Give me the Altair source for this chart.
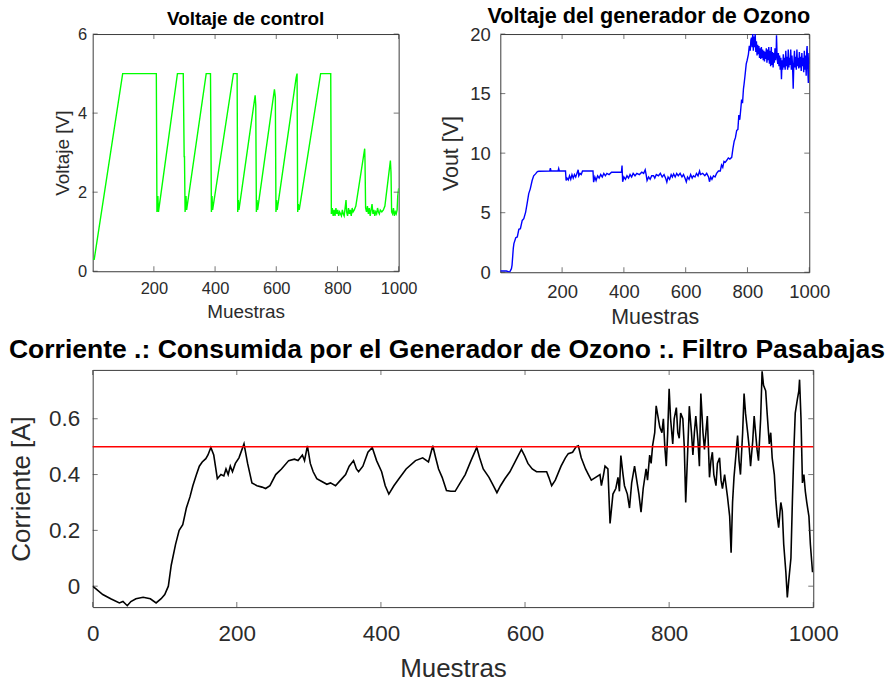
import altair as alt
import pandas as pd

# ---------------- data ----------------
ctrl_x = [1, 5, 98, 208, 210, 213, 215, 277, 296, 299, 300, 302, 305, 307, 371, 385, 388, 390, 392,
          460, 472, 474, 476, 478, 531, 533, 535, 537, 539, 594, 597, 599, 601, 603, 665, 668, 670,
          672, 675, 745, 778, 780, 783, 786, 789, 792, 795, 798, 801, 804, 807, 810, 813, 816, 819,
          822, 825, 828, 830, 833, 836, 839, 842, 845, 848, 851, 855, 860, 889, 890, 892, 895, 898,
          901, 904, 907, 910, 913, 916, 919, 922, 925, 928, 931, 934, 937, 940, 945, 950, 955, 973,
          975, 977, 980, 983, 986, 989, 992, 995, 997, 1000]
ctrl_y = [0.3, 0.3, 5.0, 5.0, 1.5, 1.9, 1.5, 5.0, 5.0, 2.9, 2.9, 1.5, 1.9, 1.55, 5.0, 5.0, 1.5, 1.9, 1.55,
          5.0, 5.0, 1.5, 1.8, 1.55, 4.45, 4.2, 1.5, 1.8, 1.55, 4.6, 4.4, 1.5, 1.8, 1.55, 4.9, 5.0, 1.5,
          1.7, 1.55, 5.0, 5.0, 1.45, 1.6, 1.4, 1.55, 1.4, 1.6, 1.45, 1.55, 1.4, 1.5, 1.45, 1.4, 1.55, 1.45,
          1.4, 1.6, 1.8, 1.5, 1.4, 1.6, 1.45, 1.55, 1.4, 1.6, 1.5, 1.55, 1.65, 3.1, 2.8, 1.6, 1.5, 1.65,
          1.45, 1.6, 1.4, 1.55, 1.7, 1.45, 1.55, 1.4, 1.5, 1.45, 1.6, 1.5, 1.45, 1.55, 1.5, 1.55, 1.65, 2.8,
          2.5, 1.5, 1.45, 1.6, 1.4, 1.5, 1.45, 1.55, 1.9, 2.1]

vout_x = [0, 20, 30, 36, 38, 42, 44, 50, 55, 60, 65, 71, 76, 82, 87, 92, 97, 103, 108, 114, 120, 125,
          160, 162, 164, 187, 189, 191, 211, 213, 216, 220, 224, 228, 232, 236, 240, 244, 248, 252,
          254, 258, 262, 266, 275, 300, 302, 306, 310, 315, 320, 325, 330, 335, 340, 345, 352, 360,
          370, 380, 392, 394, 396, 400, 405, 410, 415, 420, 425, 430, 436, 442, 450, 458, 464, 469,
          472, 475, 480, 485, 490, 496, 500, 505, 512, 518, 524, 530, 535, 539, 543, 548, 553, 557,
          561, 566, 571, 576, 582, 588, 593, 598, 602, 606, 611, 616, 621, 625, 630, 635, 640, 645,
          648, 655, 662, 668, 674, 677, 681, 685, 690, 695, 700, 706, 712, 716, 720, 724, 728, 733,
          738, 743, 749, 753, 757, 761, 765, 769, 772, 775, 778, 781, 784, 787, 789, 792, 796, 799,
          803, 806, 809, 811, 813, 815, 817, 819, 821, 823, 825, 827, 829, 831, 833, 835, 837, 839,
          841, 843, 845, 847, 849, 851, 853, 855, 857, 859, 861, 863, 865, 867, 869, 871, 873, 875,
          877, 879, 881, 883, 885, 887, 889, 891, 893, 894, 896, 898, 900, 902, 904, 906, 908, 910,
          912, 914, 916, 918, 920, 922, 924, 926, 928, 930, 932, 934, 936, 938, 940, 942, 944, 946,
          948, 950, 952, 954, 956, 958, 960, 962, 964, 966, 968, 970, 972, 974, 976, 978, 980, 982,
          984, 986, 988, 990, 992, 993, 995, 997, 999, 1000]
vout_y = [0.1, 0.1, 0.0, 0.3, 0.6, 2.0, 2.4, 2.9, 2.96, 3.6, 3.65, 4.35, 4.5, 5.05, 5.8, 6.6, 7.0, 7.7,
          8.1, 8.26, 8.45, 8.48, 8.5, 8.75, 8.5, 8.5, 8.7, 8.5, 8.5, 7.7, 7.9, 7.75, 8.1, 7.8, 8.2, 7.9,
          8.2, 8.0, 8.3, 8.6, 8.1, 8.3, 8.2, 8.5, 8.5, 8.5, 7.56, 8.0, 7.7, 8.1, 7.9, 8.2, 8.0, 8.3, 8.1,
          8.3, 8.2, 8.4, 8.4, 8.4, 8.4, 8.95, 7.6, 8.0, 7.8, 8.1, 7.9, 8.2, 8.0, 8.3, 8.1, 8.3, 8.2, 8.4,
          8.3, 8.6, 8.2, 7.7, 8.0, 7.8, 8.1, 8.1, 7.9, 8.2, 8.1, 8.3, 8.0, 8.2, 7.9, 7.56, 8.0, 7.8, 8.2,
          8.0, 8.26, 8.0, 8.3, 8.1, 8.3, 8.0, 8.2, 7.9, 7.6, 8.0, 7.8, 8.2, 7.9, 8.1, 8.0, 8.3, 8.1, 8.5,
          8.2, 8.3, 8.1, 8.3, 8.0, 7.6, 8.0, 7.8, 8.1, 8.0, 8.3, 8.5, 8.5, 9.0, 8.8, 9.3, 9.23, 9.4, 9.6,
          9.5, 9.65, 10.4, 11.0, 11.3, 11.9, 12.0, 13.2, 12.8, 13.6, 14.5, 14.2, 15.4, 15.8, 16.5, 17.5,
          17.8, 18.3, 19.0, 18.6, 19.5, 19.7, 18.9, 20.0, 18.6, 19.8, 18.9, 20.0, 18.5, 19.4, 18.2, 19.1,
          18.3, 19.0, 18.0, 18.8, 17.9, 18.9, 18.0, 18.7, 17.8, 18.6, 17.7, 18.5, 17.9, 18.8, 17.6, 18.7,
          17.8, 18.9, 17.5, 18.6, 17.3, 18.9, 17.4, 18.5, 17.2, 18.4, 17.6, 18.8, 17.8, 18.6, 19.9, 18.0,
          17.5, 18.4, 17.3, 18.2, 17.0, 18.0, 16.2, 17.8, 17.0, 18.3, 17.2, 18.0, 17.0, 18.6, 17.3, 18.1,
          17.0, 18.7, 17.2, 18.0, 17.4, 18.7, 17.0, 18.2, 17.3, 15.4, 17.5, 18.6, 17.2, 18.1, 17.0, 18.7,
          17.3, 18.0, 17.1, 18.5, 17.2, 18.1, 16.9, 18.4, 17.3, 18.0, 16.8, 18.6, 17.0, 18.2, 16.5, 18.7,
          19.0, 17.2, 15.9, 18.4, 17.5]

curr_x = [0, 14, 25, 37, 42, 48, 53, 60, 70, 80, 88, 95, 100, 105, 109, 115, 120, 125, 130, 135, 139,
          144, 148, 152, 157, 160, 164, 168, 173, 178, 182, 185, 188, 191, 194, 198, 203, 210, 215,
          221, 228, 235, 240, 246, 254, 262, 272, 280, 285, 291, 294, 298, 302, 306, 311, 318, 325,
          330, 337, 344, 351, 356, 362, 366, 369, 375, 382, 388, 394, 401, 406, 411, 418, 425, 435,
          448, 458, 466, 472, 476, 480, 485, 491, 497, 503, 510, 517, 525, 533, 537, 542, 550, 556,
          561, 566, 572, 579, 587, 595, 599, 604, 610, 616, 623, 630, 633, 637, 642, 650, 656, 660,
          666, 671, 674, 678, 684, 688, 692, 698, 704, 706, 709, 711, 715, 718, 722, 726, 729, 731,
          733, 736, 738, 742, 745, 748, 752, 755, 758, 761, 764, 768, 770, 773, 775, 777, 780, 782,
          785, 787, 790, 792, 794, 796, 798, 800, 802, 805, 807, 810, 812, 814, 816, 819, 821, 823,
          826, 828, 831, 833, 835, 837, 840, 842, 844, 847, 849, 851, 853, 856, 858, 860, 862, 865,
          867, 870, 872, 874, 877, 881, 884, 886, 888, 890, 893, 895, 897, 899, 902, 904, 906, 909,
          911, 913, 916, 918, 920, 922, 924, 927, 929, 931, 934, 936, 939, 941, 943, 946, 948, 950,
          952, 955, 957, 959, 962, 964, 966, 969, 971, 973, 975, 978, 980, 981, 983, 985, 987, 989,
          991, 994, 996, 999]
curr_y = [0.0, -0.03, -0.045, -0.06, -0.055, -0.07, -0.055, -0.045, -0.04, -0.045, -0.06, -0.045,
          -0.03, 0.0, 0.075, 0.15, 0.2, 0.22, 0.28, 0.32, 0.36, 0.40, 0.43, 0.445, 0.457, 0.47, 0.497,
          0.47, 0.385, 0.40, 0.395, 0.42, 0.40, 0.43, 0.41, 0.44, 0.46, 0.51, 0.44, 0.37, 0.36, 0.355,
          0.35, 0.36, 0.40, 0.42, 0.45, 0.455, 0.45, 0.47, 0.45, 0.503, 0.44, 0.41, 0.385, 0.375, 0.365,
          0.37, 0.36, 0.38, 0.40, 0.43, 0.45, 0.42, 0.41, 0.43, 0.48, 0.497, 0.45, 0.41, 0.36, 0.33,
          0.36, 0.385, 0.42, 0.45, 0.46, 0.445, 0.503, 0.46, 0.42, 0.39, 0.343, 0.34, 0.34, 0.37, 0.40,
          0.45, 0.497, 0.46, 0.42, 0.39, 0.36, 0.335, 0.36, 0.385, 0.41, 0.45, 0.49, 0.47, 0.44, 0.42,
          0.41, 0.41, 0.41, 0.39, 0.36, 0.38, 0.43, 0.46, 0.475, 0.48, 0.50, 0.503, 0.46, 0.42, 0.40,
          0.38, 0.39, 0.40, 0.36, 0.40, 0.43, 0.42, 0.225, 0.33, 0.35, 0.39, 0.34, 0.468, 0.40, 0.36,
          0.33, 0.28, 0.37, 0.43, 0.38, 0.33, 0.265, 0.35, 0.42, 0.38, 0.47, 0.44, 0.503, 0.55, 0.646,
          0.60, 0.57, 0.55, 0.60, 0.50, 0.43, 0.55, 0.707, 0.60, 0.51, 0.60, 0.64, 0.55, 0.53, 0.62,
          0.60, 0.50, 0.30, 0.50, 0.645, 0.55, 0.47, 0.55, 0.61, 0.52, 0.43, 0.69, 0.55, 0.49, 0.55,
          0.61, 0.39, 0.45, 0.48, 0.40, 0.36, 0.44, 0.46, 0.38, 0.35, 0.40, 0.32, 0.25, 0.12, 0.30, 0.39,
          0.48, 0.54, 0.45, 0.40, 0.55, 0.69, 0.62, 0.55, 0.50, 0.43, 0.52, 0.61, 0.55, 0.49, 0.45, 0.60,
          0.77, 0.72, 0.70, 0.62, 0.51, 0.55, 0.46, 0.40, 0.31, 0.25, 0.21, 0.30, 0.27, 0.15, 0.05,
          -0.04, 0.02, 0.10, 0.30, 0.48, 0.62, 0.67, 0.70, 0.74, 0.60, 0.37, 0.40, 0.34, 0.30, 0.25,
          0.15, 0.05]

limit_value = [0.5]

tl_xticks = [200, 400, 600, 800, 1000]
tl_yticks = [0, 2, 4, 6]
tr_xticks = [200, 400, 600, 800, 1000]
tr_yticks = [0, 5, 10, 15, 20]
bt_xticks = [0, 200, 400, 600, 800, 1000]
bt_yticks = [0, 0.2, 0.4, 0.6]

FONT = "Liberation Sans"
LABEL_COLOR = "#2b2b2b"
BOX = "#3a3a3a"
LABEL_EXPR = "datum.value + ''"
TICK_LEN = 5


def panel(xs, ys, color, xdom, ydom, xticks, yticks, w, h, title, tsize, tdx, toff,
          lsize, asize, xtitle, ytitle, xlp, ylp, xtp, ytp, lw=1.4, extra=None):
    df = pd.DataFrame({"x": xs, "y": ys})
    common = dict(ticks=False, tickSize=0, domain=False, grid=False,
                  labelFont=FONT, titleFont=FONT, labelFontSize=lsize, titleFontSize=asize,
                  labelColor=LABEL_COLOR, titleColor=LABEL_COLOR, titleFontWeight="normal",
                  labelFlush=False, labelOverlap=False, labelExpr=LABEL_EXPR)
    xaxis = alt.Axis(values=xticks, title=xtitle, labelPadding=xlp, titlePadding=xtp, **common)
    yaxis = alt.Axis(values=yticks, title=ytitle, labelPadding=ylp, titlePadding=ytp, **common)
    xs_ = alt.Scale(domain=xdom, nice=False, zero=False)
    ys_ = alt.Scale(domain=ydom, nice=False, zero=False)
    X = alt.X("x:Q", scale=xs_, axis=xaxis)
    Y = alt.Y("y:Q", scale=ys_, axis=yaxis)

    line = alt.Chart(df).mark_line(color=color, strokeWidth=lw, clip=True).encode(x=X, y=Y)

    xt = pd.DataFrame({"x": xticks})
    yt = pd.DataFrame({"y": yticks})
    half = TICK_LEN / 2
    layers = [line]
    if extra is not None:
        layers += extra(X, Y)
    # inward tick marks on all four sides of the box
    for yv, off in ((ydom[0], -half), (ydom[1], half)):
        layers.append(alt.Chart(xt).mark_tick(orient="vertical", color=BOX, thickness=1,
                                              size=TICK_LEN, yOffset=off)
                      .encode(x=X, y=alt.datum(yv)))
    for xv, off in ((xdom[0], half), (xdom[1], -half)):
        layers.append(alt.Chart(yt).mark_tick(orient="horizontal", color=BOX, thickness=1,
                                              size=TICK_LEN, xOffset=off)
                      .encode(y=Y, x=alt.datum(xv)))
    return alt.layer(*layers).properties(
        width=w, height=h,
        title=alt.TitleParams(text=title, font=FONT, fontSize=tsize, fontWeight="bold",
                              color="black", anchor="middle", frame="group",
                              offset=toff, dx=tdx))


def red_line(X, Y):
    return [alt.Chart(pd.DataFrame({"y": limit_value})).mark_rule(color="#ff0000", strokeWidth=1.5)
            .encode(y=Y)]


p1 = panel(ctrl_x, ctrl_y, "#00ff00", [0, 1000], [0, 6], tl_xticks, tl_yticks, 307, 238,
           "Voltaje de control", 19, 0, -3, 16.5, 19, "Muestras", "Voltaje [V]", 9, 6, 6, 5)
p2 = panel(vout_x, vout_y, "#0000ff", [0, 1000], [0, 20], tr_xticks, tr_yticks, 310, 239,
           "Voltaje del generador de Ozono", 21.7, -6, -3, 18.5, 21.5, "Muestras", "Vout [V]",
           10, 10, 6, 7)
p3 = panel(curr_x, curr_y, "#000000", [0, 1000], [-0.075, 0.775], bt_xticks, bt_yticks, 723, 238,
           "Corriente .: Consumida por el Generador de Ozono :. Filtro Pasabajas", 26.6, -6, 6,
           22.5, 26, "Muestras", "Corriente [A]", 16, 13, 10, 14, lw=1.6, extra=red_line)

top = alt.hconcat(p1, p2, spacing=102, bounds="flush")
chart = alt.vconcat(top, p3, spacing=7, bounds="full").properties(
    padding={"left": 8, "top": 4, "right": 2, "bottom": 2},
    background="white",
).configure_view(stroke=BOX, strokeWidth=1)

chart.save("out.html", embed_options={"renderer": "svg", "actions": False})
